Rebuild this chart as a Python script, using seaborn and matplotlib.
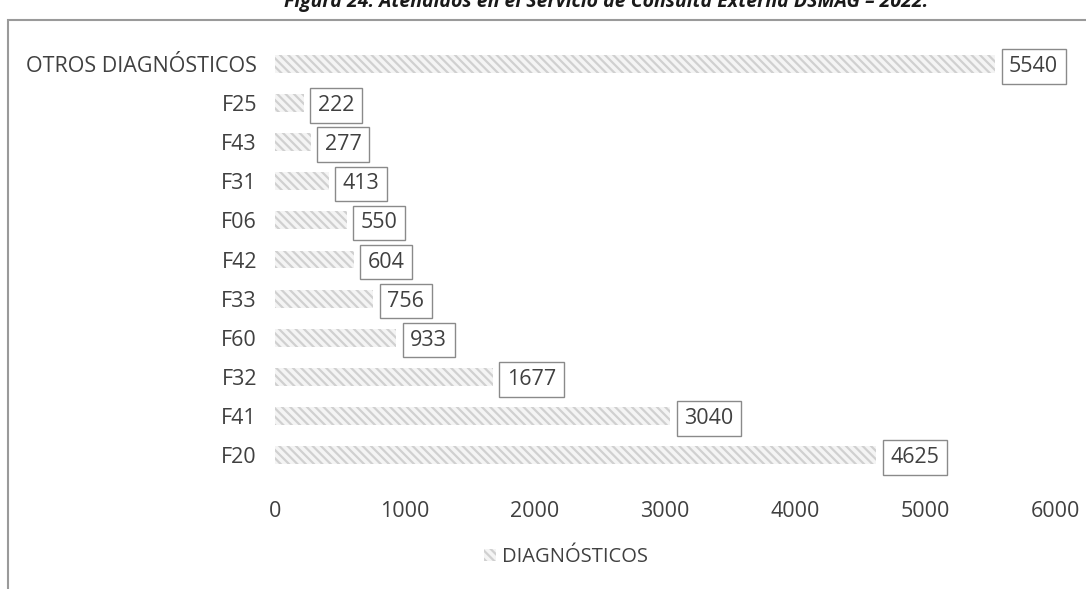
import matplotlib
matplotlib.use("Agg")
import matplotlib.pyplot as plt
import seaborn as sns
import pandas as pd
from matplotlib.patches import Rectangle, Patch

# Diagnoses attended in outpatient consultation
categorias = ["OTROS DIAGNÓSTICOS", "F25", "F43", "F31", "F06", "F42",
              "F33", "F60", "F32", "F41", "F20"]
atendidos = [5540, 222, 277, 413, 550, 604, 756, 933, 1677, 3040, 4625]
ticks_x = [0, 1000, 2000, 3000, 4000, 5000, 6000]
serie = "DIAGNÓSTICOS"
titulo = "Figura 24. Atendidos en el Servicio de Consulta Externa DSMAG – 2022."

sns.set_theme(style="white")
plt.rcParams["font.family"] = ["Open Sans", "DejaVu Sans"]
plt.rcParams["hatch.linewidth"] = 1.6
plt.rcParams["hatch.color"] = "#d0d0d0"

TXT = "#404040"
df = pd.DataFrame({"cat": categorias, "val": atendidos})

fig = plt.figure(figsize=(10.86, 5.89), dpi=100)
W, H = 1086, 589
ax = fig.add_axes([275 / W, 1 - 474.5 / H, 780 / W, 430 / H])

sns.barplot(data=df, y="cat", x="val", orient="h", ax=ax, width=0.46,
            color="white", edgecolor="#d0d0d0", linewidth=0, saturation=1)
for p in ax.patches:
    p.set_hatch("\\\\\\\\")
    p.set_edgecolor("#d0d0d0")
    p.set_facecolor("#f4f4f4")

ax.set_xlim(0, 6000)
ax.set_ylim(10.5, -0.5)
ax.set_xticks(ticks_x)
ax.set_xticklabels([str(t) for t in ticks_x])
ax.set_xlabel("")
ax.set_ylabel("")
ax.tick_params(axis="x", length=0, pad=19, labelsize=15.5, labelcolor=TXT)
ax.tick_params(axis="y", length=0, pad=13, labelsize=15.5, labelcolor=TXT)
for s in ax.spines.values():
    s.set_visible(False)
ax.grid(False)

# value labels in framed boxes at the end of each bar
for i, v in enumerate(atendidos):
    ax.annotate(str(v), xy=(v, i), xytext=(10, 0), textcoords="offset points",
                ha="left", va="center_baseline", fontsize=15.5, color=TXT,
                bbox=dict(boxstyle="square,pad=0.35", fc="white",
                          ec="#8a8a8a", lw=1.0, mutation_aspect=0.9))

# legend
handle = Patch(facecolor="#f4f4f4", edgecolor="#d0d0d0", hatch="\\\\\\\\",
               linewidth=0)
fig.legend([handle], [serie], loc="center", bbox_to_anchor=(566 / W, 1 - 557 / H),
           frameon=False, fontsize=14.5, labelcolor=TXT, handlelength=0.6,
           handleheight=0.6, handletextpad=0.3)

# chart frame
fig.patches.append(Rectangle((8 / W, -0.05), 1.1, 1 - 20 / H + 0.05,
                             transform=fig.transFigure, fill=False,
                             ec="#9a9a9a", lw=1.5))

# caption above the frame
fig.text(606 / W, 1 - 7 / H, titulo, ha="center", va="baseline",
         fontsize=14, fontweight="bold", fontstyle="italic", color="#1a1a1a")

fig.savefig("out.png", dpi=100)
